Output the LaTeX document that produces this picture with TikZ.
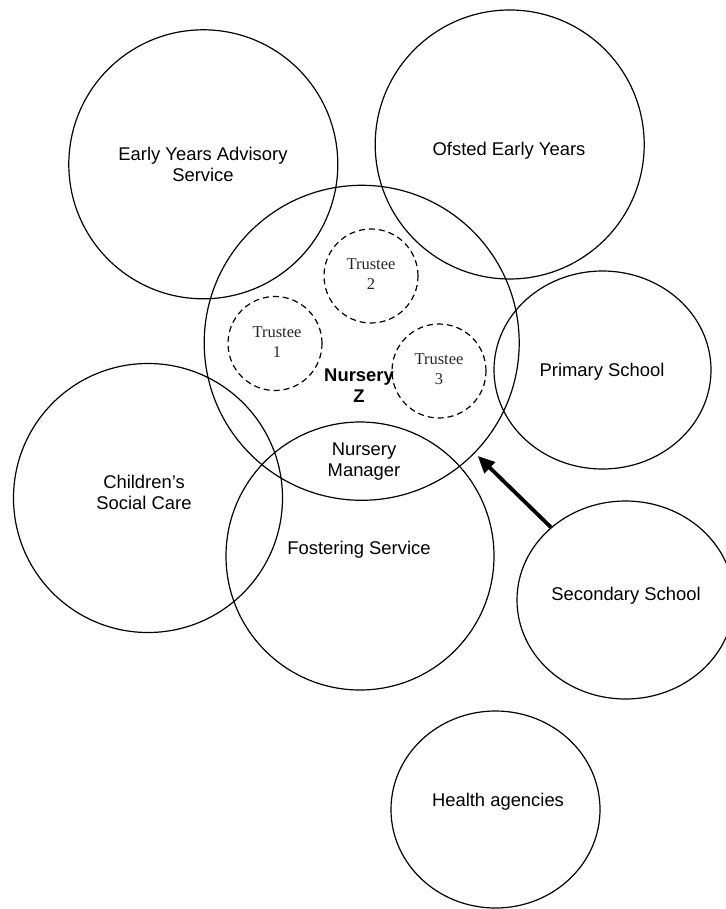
\documentclass[tikz,border=0pt]{standalone}
\usepackage{fontspec}
\setmainfont{Liberation Sans}
\newfontfamily\tnr{Liberation Serif}
\usetikzlibrary{shapes.geometric,arrows.meta}
\begin{document}
\begin{tikzpicture}[x=1pt,y=-1pt,
  ring/.style={draw,circle,line width=1.2pt,inner sep=0pt,minimum size=#1},
  oval/.style 2 args={draw,ellipse,line width=1.2pt,inner sep=0pt,minimum width=#1,minimum height=#2},
  trustring/.style={draw,circle,line width=1.2pt,dash pattern=on 6pt off 4pt,inner sep=0pt,minimum size=94pt},
  lbl/.style={align=center,inner sep=0pt,font=\fontsize{18.4}{21}\selectfont},
  tlbl/.style={align=center,inner sep=0pt,text=black!85,font=\tnr\fontsize{16.5}{20}\selectfont},
  bigarrow/.style={line width=3.8pt,-{Triangle[length=17pt,width=15pt]}}]
\useasboundingbox (0,0) rectangle (725,909);

% circles
\node[ring=269pt] (eyas) at (203.3,164.3) {};
\node[ring=269pt] (ofs) at (509.7,144.5) {};
\node[ring=315pt] (nz) at (361.7,342.8) {};
\node[oval={217pt}{198pt}] (prim) at (602.5,370) {};
\node[ring=269pt] (csc) at (148,498) {};
\node[ring=268pt] (fost) at (360,556) {};
\node[oval={217pt}{198pt}] (sec) at (625.5,600) {};
\node[oval={209pt}{197pt}] (health) at (495.5,809.5) {};

% trustees
\node[trustring] (t1) at (275,343.5) {};
\node[trustring] (t2) at (371,276) {};
\node[trustring] (t3) at (439,371) {};

% labels
\node[lbl] (eyasL) at (203,164) {Early Years Advisory\\Service};
\node[lbl] (ofsL) at (509,151) {Ofsted Early Years};
\node[lbl] (primL) at (602,372) {Primary School};
\node[lbl] (cscL) at (144,492) {Children’s\\Social Care};
\node[lbl] (fostL) at (359,550) {Fostering Service};
\node[lbl] (nmL) at (364,462) {Nursery\\Manager};
\node[lbl,font=\bfseries\fontsize{18.4}{21}\selectfont] (nzL) at (359,386) {Nursery\\Z};
\node[lbl] (secL) at (626,596) {Secondary School};
\node[lbl] (healthL) at (498,802) {Health agencies};

\node[tlbl] (t1L) at (277,342) {Trustee\\1};
\node[tlbl] (t2L) at (371,274) {Trustee\\2};
\node[tlbl] (t3L) at (439,369) {Trustee\\3};

% arrow
\draw[bigarrow,shorten >=4pt] (sec) -- (nz);
\end{tikzpicture}
\end{document}
